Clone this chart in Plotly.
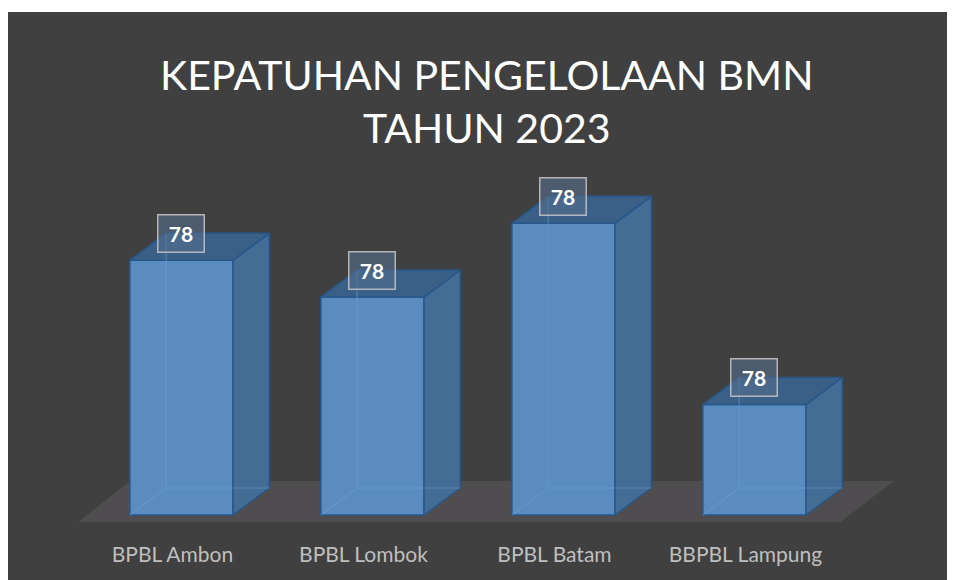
import plotly.graph_objects as go

categories = ["BPBL Ambon", "BPBL Lombok", "BPBL Batam", "BBPBL Lampung"]
scores = [78.33, 78.21, 78.45, 77.86]

BASE = 77.5          # hidden value axis starts here
BAR_W = 0.54         # front face width, in category units
DX, DY = 0.19, 0.088  # 3d depth offset (x in categories, y in value units)

FRONT = "rgba(91,142,196,0.97)"
SIDE = "rgba(68,110,152,0.97)"
TOP = "rgba(58,98,140,0.95)"
EDGE = "#27578a"
BG = "#404040"

fig = go.Figure()

# side and top faces built from the same values
for i, v in enumerate(scores):
    x0, x1 = i - BAR_W / 2, i + BAR_W / 2
    fig.add_trace(go.Scatter(
        x=[x1, x1 + DX, x1 + DX, x1, x1], y=[BASE, BASE + DY, v + DY, v, BASE],
        fill="toself", fillcolor=SIDE, mode="lines",
        line=dict(color=EDGE, width=1.5), hoverinfo="skip", showlegend=False))
    fig.add_trace(go.Scatter(
        x=[x0, x0 + DX, x1 + DX, x1, x0], y=[v, v + DY, v + DY, v, v],
        fill="toself", fillcolor=TOP, mode="lines",
        line=dict(color=EDGE, width=1.5), hoverinfo="skip", showlegend=False))

fig.add_trace(go.Bar(
    x=list(range(len(categories))), y=[v - BASE for v in scores], base=BASE,
    width=BAR_W, marker=dict(color=FRONT, line=dict(color=EDGE, width=1.5)),
    hoverinfo="skip", showlegend=False))

# faint hidden edges seen through the transparent front
for i, v in enumerate(scores):
    x0, x1 = i - BAR_W / 2, i + BAR_W / 2
    fig.add_trace(go.Scatter(
        x=[x0, x0 + DX, x0 + DX, None, x0 + DX, x1 + DX],
        y=[BASE, BASE + DY, v + DY, None, BASE + DY, BASE + DY],
        mode="lines", line=dict(color="rgba(110,160,215,0.5)", width=1.2),
        hoverinfo="skip", showlegend=False))

# data labels
for i, v in enumerate(scores):
    fig.add_annotation(
        x=i, y=v + DY, text="<b>%.0f</b>" % v, showarrow=False,
        font=dict(family="Lato", size=21, color="white"),
        bgcolor="rgba(85,110,140,0.6)", bordercolor="rgba(200,200,200,0.85)",
        borderwidth=1.5, width=43, height=34, xanchor="center", yanchor="middle")

# floor
fig.add_shape(type="path", layer="below", line_width=0, fillcolor="#4f4d4f",
              path="M -0.54 77.477 L 3.45 77.477 L 3.73 77.611 L -0.27 77.611 Z")

# thin white page margin above the chart area
fig.add_shape(type="rect", xref="paper", yref="paper", layer="below",
              x0=-0.1, x1=1.1, y0=1.0314, y1=1.06,
              fillcolor="white", line_width=0)

fig.add_annotation(
    xref="paper", yref="paper", x=0.4988, y=0.857,
    text="KEPATUHAN PENGELOLAAN BMN<br>TAHUN 2023", showarrow=False,
    font=dict(family="Lato", size=41, color="white"),
    xanchor="center", yanchor="middle")

fig.update_xaxes(range=[-0.594, 3.804], tickvals=[i - 0.047 for i in range(len(categories))],
                 ticktext=categories, showgrid=False, zeroline=False, showline=False,
                 tickfont=dict(family="Lato", size=21, color="#bfbfbf"), ticklabelstandoff=2)
fig.update_yaxes(range=[77.4251, 79.0863], visible=False)
fig.update_layout(width=955, height=580, margin=dict(l=60, r=55, t=20, b=50),
                  paper_bgcolor=BG, plot_bgcolor="rgba(0,0,0,0)")

fig.write_html("out.html")
